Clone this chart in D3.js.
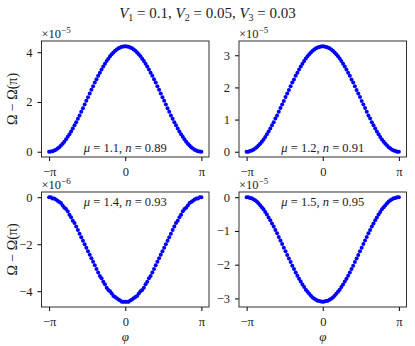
<!DOCTYPE html>
<html>
<head>
<meta charset="utf-8">
<script src="https://cdn.jsdelivr.net/npm/d3@7"></script>
<style>
  body { margin: 0; background: #fff; }
  text { font-family: "Liberation Serif", "DejaVu Serif", serif; fill: #1a1a1a; }
</style>
</head>
<body>
<div id="chart"></div>
<script>
// Omega - Omega(pi), in units of the offset shown above each panel
const omegaMu11 = [0, 0.01, 0.02, 0.05, 0.08, 0.13, 0.18, 0.25, 0.32, 0.40,
  0.50, 0.60, 0.70, 0.81, 0.93, 1.06, 1.19, 1.33, 1.46, 1.61,
  1.75, 1.90, 2.05, 2.19, 2.34, 2.49, 2.63, 2.78, 2.91, 3.05,
  3.18, 3.31, 3.43, 3.54, 3.65, 3.74, 3.84, 3.92, 3.99, 4.06,
  4.11, 4.16, 4.19, 4.22, 4.23, 4.24, 4.23, 4.22, 4.19, 4.16,
  4.11, 4.06, 3.99, 3.92, 3.84, 3.74, 3.65, 3.54, 3.43, 3.31,
  3.18, 3.05, 2.91, 2.78, 2.63, 2.49, 2.34, 2.19, 2.05, 1.90,
  1.75, 1.61, 1.46, 1.33, 1.19, 1.06, 0.93, 0.81, 0.70, 0.60,
  0.50, 0.40, 0.32, 0.25, 0.18, 0.13, 0.08, 0.05, 0.02, 0.01, 0];

const omegaMu12 = [0, 0.00, 0.02, 0.04, 0.06, 0.10, 0.14, 0.19, 0.25, 0.31,
  0.38, 0.46, 0.54, 0.63, 0.72, 0.82, 0.92, 1.03, 1.13, 1.24,
  1.36, 1.47, 1.58, 1.70, 1.81, 1.92, 2.04, 2.15, 2.25, 2.36,
  2.46, 2.56, 2.65, 2.74, 2.82, 2.90, 2.97, 3.03, 3.09, 3.14,
  3.18, 3.22, 3.24, 3.26, 3.27, 3.28, 3.27, 3.26, 3.24, 3.22,
  3.18, 3.14, 3.09, 3.03, 2.97, 2.90, 2.82, 2.74, 2.65, 2.56,
  2.46, 2.36, 2.25, 2.15, 2.04, 1.92, 1.81, 1.70, 1.58, 1.47,
  1.36, 1.24, 1.13, 1.03, 0.92, 0.82, 0.72, 0.63, 0.54, 0.46,
  0.38, 0.31, 0.25, 0.19, 0.14, 0.10, 0.06, 0.04, 0.02, 0.00, 0];

const omegaMu14 = [0, 0.00, -0.05, -0.05, -0.10, -0.15, -0.20, -0.25, -0.35, -0.45,
  -0.50, -0.60, -0.75, -0.85, -1.00, -1.10, -1.25, -1.40, -1.55, -1.70,
  -1.85, -2.00, -2.15, -2.30, -2.45, -2.60, -2.75, -2.90, -3.05, -3.20,
  -3.35, -3.45, -3.60, -3.70, -3.85, -3.95, -4.00, -4.10, -4.20, -4.25,
  -4.30, -4.35, -4.40, -4.45, -4.45, -4.45, -4.45, -4.45, -4.40, -4.35,
  -4.30, -4.25, -4.20, -4.10, -4.00, -3.95, -3.85, -3.70, -3.60, -3.45,
  -3.35, -3.20, -3.05, -2.90, -2.75, -2.60, -2.45, -2.30, -2.15, -2.00,
  -1.85, -1.70, -1.55, -1.40, -1.25, -1.10, -1.00, -0.85, -0.75, -0.60,
  -0.50, -0.45, -0.35, -0.25, -0.20, -0.15, -0.10, -0.05, -0.05, 0.00, 0];

const omegaMu15 = [0, 0.00, -0.02, -0.03, -0.06, -0.09, -0.13, -0.18, -0.24, -0.30,
  -0.36, -0.44, -0.51, -0.60, -0.68, -0.78, -0.87, -0.97, -1.07, -1.18,
  -1.28, -1.39, -1.50, -1.60, -1.71, -1.82, -1.92, -2.03, -2.13, -2.23,
  -2.33, -2.42, -2.50, -2.59, -2.66, -2.74, -2.80, -2.86, -2.92, -2.97,
  -3.01, -3.04, -3.07, -3.08, -3.09, -3.10, -3.09, -3.08, -3.07, -3.04,
  -3.01, -2.97, -2.92, -2.86, -2.80, -2.74, -2.66, -2.59, -2.50, -2.42,
  -2.33, -2.23, -2.13, -2.03, -1.92, -1.82, -1.71, -1.60, -1.50, -1.39,
  -1.28, -1.18, -1.07, -0.97, -0.87, -0.78, -0.68, -0.60, -0.51, -0.44,
  -0.36, -0.30, -0.24, -0.18, -0.13, -0.09, -0.06, -0.03, -0.02, 0.00, 0];

const muValues = [1.1, 1.2, 1.4, 1.5];
const nValues = [0.89, 0.91, 0.93, 0.95];
const exponents = [-5, -5, -6, -5];
const yTicks = [[0, 2, 4], [0, 1, 2, 3], [0, -2, -4], [0, -1, -2, -3]];
const xTickValues = [-Math.PI, 0, Math.PI];
const xTickLabels = ["−π", "0", "π"];

// sampling grid in phi: 91 points from -pi to pi
const phi = d3.range(omegaMu11.length).map(i => -Math.PI + i * 2 * Math.PI / (omegaMu11.length - 1));

const series = [omegaMu11, omegaMu12, omegaMu14, omegaMu15];

const width = 415, height = 346;
const svg = d3.select("#chart").append("svg")
  .attr("width", width)
  .attr("height", height);

svg.append("rect").attr("width", width).attr("height", height).attr("fill", "#fff");

// panel boxes
const boxes = [
  { x: 41.5, y: 41, w: 167.5, h: 116 },
  { x: 239, y: 41, w: 167.5, h: 116 },
  { x: 41.5, y: 192, w: 167.5, h: 115 },
  { x: 239, y: 192, w: 167.5, h: 115 }
];

const minus = v => v < 0 ? "−" + Math.abs(v) : String(v);

// title
const title = svg.append("text")
  .attr("x", width / 2).attr("y", 18)
  .attr("text-anchor", "middle")
  .style("font-size", "15px");
[["V", "1", " = 0.1, "], ["V", "2", " = 0.05, "], ["V", "3", " = 0.03"]].forEach(p => {
  title.append("tspan").style("font-style", "italic").text(p[0]);
  title.append("tspan").attr("dy", 3).style("font-size", "10px").text(p[1]);
  title.append("tspan").attr("dy", -3).text(p[2]);
});

series.forEach((vals, i) => {
  const b = boxes[i];
  const g = svg.append("g").attr("transform", `translate(${b.x},${b.y})`);

  const x = d3.scaleLinear()
    .domain([-Math.PI * 1.1, Math.PI * 1.1])
    .range([0, b.w]);

  const ext = d3.extent(vals);
  const pad = (ext[1] - ext[0]) * 0.05;
  const y = d3.scaleLinear()
    .domain([ext[0] - pad, ext[1] + pad])
    .range([b.h, 0]);

  g.append("g")
    .attr("transform", `translate(0,${b.h})`)
    .call(d3.axisBottom(x).tickValues(xTickValues).tickSize(4).tickPadding(6)
      .tickFormat((d, k) => xTickLabels[k]))
    .call(a => a.select(".domain").remove())
    .call(a => a.selectAll("text").style("font-size", "12.5px").attr("fill", "#1a1a1a"));

  g.append("g")
    .call(d3.axisLeft(y).tickValues(yTicks[i]).tickSize(4).tickPadding(5)
      .tickFormat(minus))
    .call(a => a.select(".domain").remove())
    .call(a => a.selectAll("text").style("font-size", "12.5px").attr("fill", "#1a1a1a"));

  g.selectAll("circle")
    .data(vals)
    .enter()
    .append("circle")
    .attr("cx", (d, k) => x(phi[k]))
    .attr("cy", d => y(d))
    .attr("r", 2)
    .attr("fill", "#0000ff");

  g.append("rect")
    .attr("width", b.w).attr("height", b.h)
    .attr("fill", "none").attr("stroke", "#1a1a1a").attr("stroke-width", 0.9);

  // offset text
  const off = g.append("text").attr("x", 0).attr("y", -3).style("font-size", "12.5px");
  off.append("tspan").text("×10");
  off.append("tspan").attr("dy", -5).style("font-size", "9px").text(minus(exponents[i]));

  // annotation
  const ann = g.append("text")
    .attr("x", b.w / 2)
    .attr("y", i < 2 ? b.h - 5 : 14)
    .attr("text-anchor", "middle")
    .style("font-size", "12.5px");
  ann.append("tspan").style("font-style", "italic").text("μ");
  ann.append("tspan").text(` = ${muValues[i]}, `);
  ann.append("tspan").style("font-style", "italic").text("n");
  ann.append("tspan").text(` = ${nValues[i]}`);

  if (i % 2 === 0) {
    g.append("text")
      .attr("transform", `translate(${-25},${b.h / 2}) rotate(-90)`)
      .attr("text-anchor", "middle")
      .style("font-size", "14px")
      .text("Ω − Ω(π)");
  }
  if (i >= 2) {
    g.append("text")
      .attr("x", b.w / 2).attr("y", b.h + 34)
      .attr("text-anchor", "middle")
      .style("font-size", "13px").style("font-style", "italic")
      .text("φ");
  }
});
</script>
</body>
</html>
